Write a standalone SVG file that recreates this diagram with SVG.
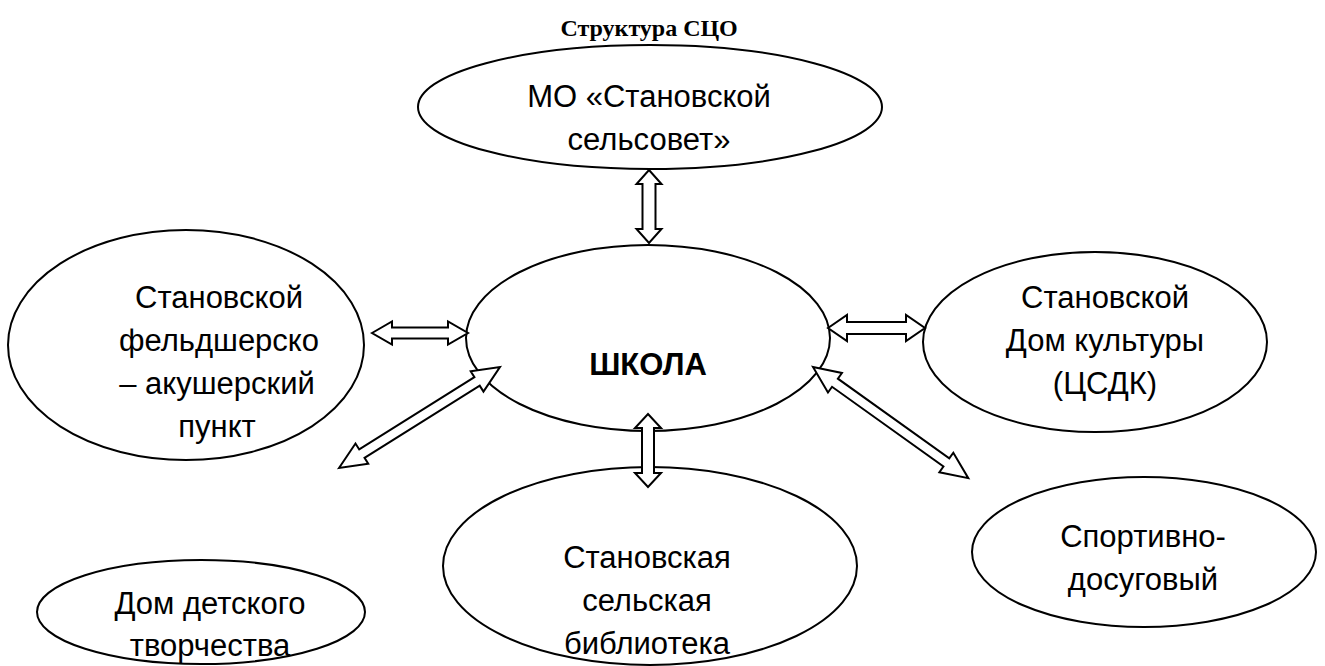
<svg xmlns="http://www.w3.org/2000/svg" width="1325" height="666" viewBox="0 0 1325 666">
<style>
.n{fill:#fff;stroke:#000;stroke-width:2}
.t{font-family:"Liberation Sans",Arial,sans-serif;font-size:31px;fill:#000;text-anchor:middle}
.b{font-weight:bold}
.ttl{font-family:"Liberation Serif","Times New Roman",serif;font-size:24px;font-weight:bold;text-anchor:middle}
.a{fill:#fff;stroke:#000;stroke-width:2;stroke-linejoin:miter}
</style>
<rect width="1325" height="666" fill="#fff"/>
<text class="ttl" x="649" y="36">Структура СЦО</text>
<g id="n-mo"><ellipse class="n" cx="650" cy="107" rx="232" ry="62"/><text class="t" x="649" y="107">МО «Становской</text><text class="t" x="649" y="150">сельсовет»</text></g>
<g id="n-school"><ellipse class="n" cx="648" cy="338" rx="182" ry="93"/><text class="t b" x="648" y="375">ШКОЛА</text></g>
<g id="n-fap"><ellipse class="n" cx="186" cy="345" rx="178" ry="115"/><text class="t" x="219" y="308">Становской</text><text class="t" x="219" y="351">фельдшерско</text><text class="t" x="217" y="394">– акушерский</text><text class="t" x="217" y="437">пункт</text></g>
<g id="n-dk"><ellipse class="n" cx="1095" cy="342" rx="172" ry="90"/><text class="t" x="1105" y="308">Становской</text><text class="t" x="1105" y="351">Дом культуры</text><text class="t" x="1105" y="394">(ЦСДК)</text></g>
<g id="n-lib"><ellipse class="n" cx="650" cy="566" rx="207" ry="99"/><text class="t" x="647" y="568">Становская</text><text class="t" x="647" y="611">сельская</text><text class="t" x="647" y="654">библиотека</text></g>
<g id="n-sport"><ellipse class="n" cx="1144" cy="552" rx="172" ry="75"/><text class="t" x="1143" y="547">Спортивно-</text><text class="t" x="1143" y="590">досуговый</text></g>
<g id="n-ddt"><ellipse class="n" cx="201" cy="612" rx="164" ry="52"/><text class="t" x="210" y="614">Дом детского</text><text class="t" x="210" y="656">творчества</text></g>
<g id="connectors">
<polygon class="a" transform="translate(649,170) rotate(90)" points="0,0 14,-12.5 14,-6.5 59,-6.5 59,-12.5 73,0 59,12.5 59,6.5 14,6.5 14,12.5"/>
<polygon class="a" transform="translate(648,414) rotate(90)" points="0,0 14,-13 14,-6 59,-6 59,-13 73,0 59,13 59,6 14,6 14,13"/>
<polygon class="a" transform="translate(372,333)" points="0,0 20,-11.5 20,-5.5 76,-5.5 76,-11.5 96,0 76,11.5 76,5.5 20,5.5 20,11.5"/>
<polygon class="a" transform="translate(828,328)" points="0,0 19,-13 19,-6 78,-6 78,-13 97,0 78,13 78,6 19,6 19,13"/>
<polygon class="a" transform="translate(339,468) rotate(-32.1)" points="0,0 27,-12 27,-5 163,-5 163,-12 190,0 163,12 163,5 27,5 27,12"/>
<polygon class="a" transform="translate(813,367) rotate(35.6)" points="0,0 27,-12 27,-5 164,-5 164,-12 191,0 164,12 164,5 27,5 27,12"/>
</g>
</svg>
